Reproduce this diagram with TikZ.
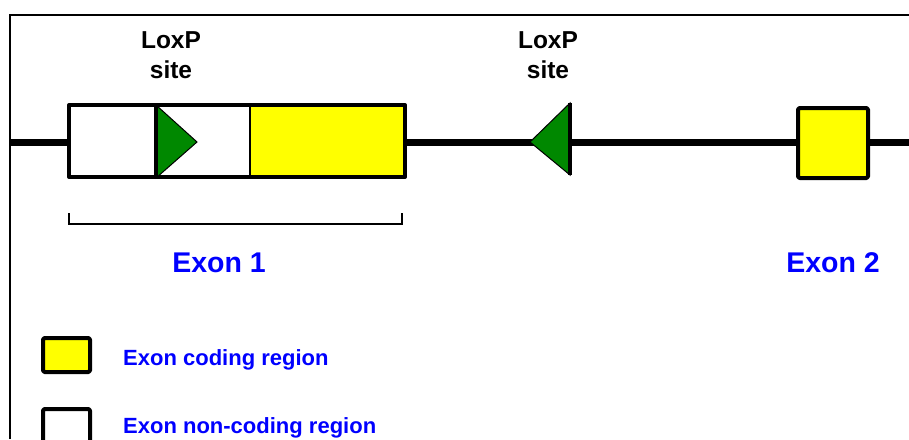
\documentclass[tikz,border=0pt]{standalone}
\usepackage{fontspec}
\setmainfont{Liberation Sans}
\definecolor{loxgreen}{RGB}{0,136,0}
\definecolor{exonyellow}{RGB}{255,255,0}
\definecolor{labelblue}{RGB}{0,0,255}
\tikzset{
  part/.style={draw=black, line width=3pt, inner sep=0pt, outer sep=0pt},
  outline/.style={draw=black, line width=4pt, line join=round},
  loxtri/.style={fill=loxgreen, draw=black, line width=1pt, line join=miter},
  loxbar/.style={draw=black, line width=4pt},
  sitelabel/.style={font=\bfseries\fontsize{24.5}{30}\selectfont, anchor=base, inner sep=0pt},
  exonlabel/.style={font=\bfseries\fontsize{28.5}{34}\selectfont, text=labelblue, anchor=base, inner sep=0pt},
  legendlabel/.style={font=\bfseries\fontsize{22}{26}\selectfont, text=labelblue, anchor=base west, inner sep=0pt},
}
\begin{document}
\begin{tikzpicture}[x=1pt, y=-1pt]
\useasboundingbox (0,0) rectangle (909,439);

% frame (left and top edges)
\coordinate (fbl) at (10,439);
\coordinate (ftl) at (10,15);
\coordinate (ftr) at (909,15);
\draw[line width=2pt] (fbl) -- (ftl) -- (ftr);

% chromosome backbone
\coordinate (bbL) at (10,142);
\coordinate (bbR) at (909,142);
\draw[line width=7pt] (bbL) -- (bbR);

% exon 1: non-coding, non-coding, coding
\path[fill=white] (69,105) rectangle (250,177);
\path[fill=exonyellow] (250,105) rectangle (405,177);
\draw[line width=2.5pt] (250,105) -- (250,177);
\draw[outline] (69,105) rectangle (405,177);
\node[inner sep=0pt, minimum width=336pt, minimum height=72pt] (exon1) at (237,141) {};

% first loxP site (forward)
\draw[loxtri] (156,105) -- (197,142) -- (156,178) -- cycle;
\draw[loxbar] (156,105) -- (156,178);

% second loxP site (reverse)
\draw[loxtri] (570,103) -- (530,142) -- (570,175) -- cycle;
\draw[loxbar] (570,103) -- (570,175);

% exon 2 (coding)
\draw[outline, fill=exonyellow, rounded corners=1.5pt] (798,108) rectangle (868,178);
\node[inner sep=0pt, minimum width=70pt, minimum height=70pt] (exon2) at (833,143) {};

% bracket under exon 1
\coordinate (brL) at (69,213);
\coordinate (brR) at (402,213);
\draw[line width=2pt] (brL) -- (69,224) -- (402,224) -- (brR);

% labels
\node[sitelabel] (lox1a) at (171,48) {LoxP};
\node[sitelabel] (lox1b) at (171,78) {site};
\node[sitelabel] (lox2a) at (548,48) {LoxP};
\node[sitelabel] (lox2b) at (548,78) {site};
\node[exonlabel] (ex1) at (219,272) {Exon 1};
\node[exonlabel] (ex2) at (833,272) {Exon 2};

% legend
\draw[outline, fill=exonyellow, rounded corners=1.5pt] (43,338) rectangle (90,372);
\draw[outline, fill=white, rounded corners=1.5pt] (43,409) rectangle (90,446);
\node[legendlabel] (leg1) at (123,365) {Exon coding region};
\node[legendlabel] (leg2) at (123,433) {Exon non-coding region};
\end{tikzpicture}
\end{document}
